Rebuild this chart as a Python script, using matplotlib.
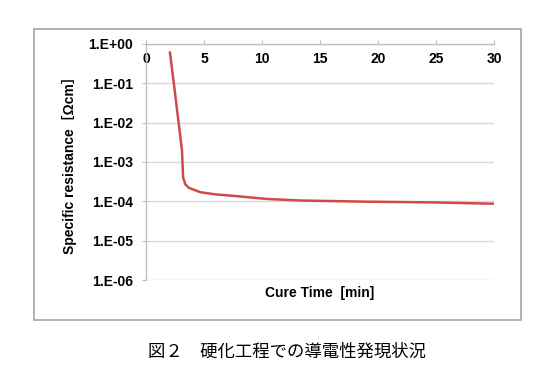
import numpy as np
import matplotlib
matplotlib.use("Agg")
import matplotlib.pyplot as plt
from matplotlib.patches import Rectangle
from matplotlib.ticker import FixedLocator, FuncFormatter, NullLocator

# donnees
temps = [2.05, 2.4, 3.1, 3.2, 3.4, 3.7, 4.7, 6.0, 7.5, 10.4, 13.3, 19.0, 24.7, 30.0]
resistance = [0.65, 0.1, 2e-3, 4e-4, 2.7e-4, 2.2e-4, 1.7e-4, 1.5e-4, 1.38e-4,
              1.15e-4, 1.05e-4, 9.8e-5, 9.4e-5, 8.7e-5]
x_ticks = [0, 5, 10, 15, 20, 25, 30]
y_ticks = [1e-6, 1e-5, 1e-4, 1e-3, 1e-2, 1e-1, 1e0]

plt.rcParams['font.family'] = ['Liberation Sans', 'Noto Sans CJK JP']
gris = "#bfbfbf"

fig = plt.figure(figsize=(5.54, 3.66), dpi=100)
fig.patches.append(Rectangle((34/554, 1-320/366), (521-34)/554, (320-29)/366,
                             transform=fig.transFigure, fill=False,
                             edgecolor="#a6a6a6", linewidth=1.2))
ax = fig.add_axes([146/554, 1-280/366, (494-146)/554, (280-44)/366])

ax.plot(temps, resistance, color="#cd4b4b", linewidth=1.8, solid_capstyle="butt")

ax.set_yscale("log")
ax.set_xlim(0, 30)
ax.set_ylim(1e-6, 1)
ax.yaxis.set_major_locator(FixedLocator(y_ticks))
ax.yaxis.set_minor_locator(NullLocator())
ax.yaxis.set_major_formatter(FuncFormatter(lambda v, p: "1.E{:+03d}".format(int(round(np.log10(v))))))
ax.set_xticks(x_ticks)
ax.grid(axis="y", color="#d9d9d9", linewidth=1)
ax.set_axisbelow(True)

for s in ["right", "bottom"]:
    ax.spines[s].set_visible(False)
for s in ["top", "left"]:
    ax.spines[s].set_color(gris)
    ax.spines[s].set_linewidth(1)

ax.tick_params(axis="x", top=True, bottom=False, labeltop=True, labelbottom=False,
               length=3, color=gris, pad=-18.5, labelsize=10)
ax.tick_params(axis="y", length=3, color=gris, pad=6.5, labelsize=10)
for lab in ax.get_xticklabels() + ax.get_yticklabels():
    lab.set_fontweight("bold")

ax.set_ylabel("Specific resistance［Ωcm］", fontsize=10, fontweight="bold", labelpad=8)
ax.set_xlabel("Cure Time  [min]", fontsize=10, fontweight="bold", labelpad=4)

fig.text(287/554, 1-352/366, "図２　硬化工程での導電性発現状況", fontsize=12.5,
         family=["Noto Sans CJK JP"], ha="center", va="center")

fig.savefig("out.png", dpi=100)
